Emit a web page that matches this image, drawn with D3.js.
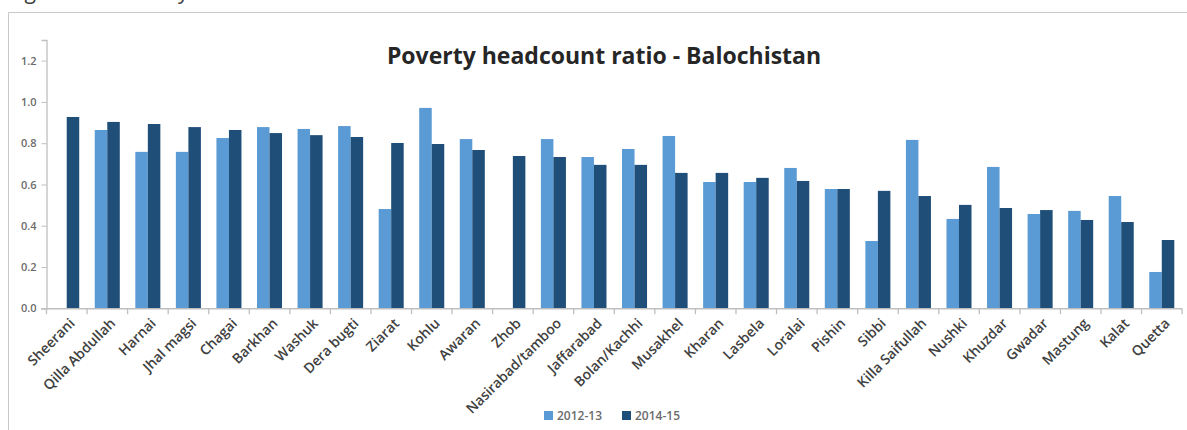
<!DOCTYPE html>
<html>
<head>
<meta charset="utf-8">
<script src="https://cdn.jsdelivr.net/npm/d3@7"></script>
<style>
  html, body { margin: 0; padding: 0; background: #fff; }
  svg { display: block; }
  text { font-family: "Open Sans", "Noto Sans", sans-serif; }
</style>
</head>
<body>
<svg id="chart" width="1187" height="430"></svg>
<script>
// Districts of Balochistan, ordered by 2014-15 headcount ratio
const districts = ["Sheerani", "Qilla Abdullah", "Harnai", "Jhal magsi", "Chagai", "Barkhan",
  "Washuk", "Dera bugti", "Ziarat", "Kohlu", "Awaran", "Zhob", "Nasirabad/tamboo", "Jaffarabad",
  "Bolan/Kachhi", "Musakhel", "Kharan", "Lasbela", "Loralai", "Pishin", "Sibbi", "Killa Saifullah",
  "Nushki", "Khuzdar", "Gwadar", "Mastung", "Kalat", "Quetta"];

const ratio2012 = [null, 0.864, 0.758, 0.758, 0.825, 0.878, 0.869, 0.883, 0.481, 0.971, 0.820,
  null, 0.820, 0.733, 0.772, 0.835, 0.612, 0.612, 0.680, 0.578, 0.326, 0.816, 0.433, 0.685,
  0.457, 0.472, 0.544, 0.176];

const ratio2014 = [0.927, 0.903, 0.893, 0.878, 0.864, 0.849, 0.839, 0.830, 0.801, 0.796, 0.767,
  0.738, 0.733, 0.695, 0.695, 0.656, 0.656, 0.632, 0.617, 0.578, 0.569, 0.544, 0.501, 0.486,
  0.476, 0.428, 0.418, 0.331];

const seriesNames = ["2012-13", "2014-15"];
const seriesColors = ["#5b9bd5", "#1f4e79"];
const yTicks = [0, 0.2, 0.4, 0.6, 0.8, 1.0, 1.2];

const svg = d3.select("#chart");
const axisGrey = "#bfbfbf";

// caption running off the top of the frame
svg.append("text")
  .attr("x", 6).attr("y", -1)
  .attr("font-size", 21).attr("letter-spacing", 1.2).attr("fill", "#404040")
  .text("Figure 6: Poverty headcount ratio");

// outer frame (left and top edges)
svg.append("path")
  .attr("d", "M8.5,430 V12.5 H1187")
  .attr("fill", "none").attr("stroke", "#c8c8c8").attr("stroke-width", 1);

const x0 = d3.scaleBand().domain(districts).range([46.5, 1182]).paddingInner(0.383).paddingOuter(0.19);
const x1 = d3.scaleBand().domain(seriesNames).range([0, x0.bandwidth()]);
const y = d3.scaleLinear().domain([0, 1.3]).range([308.3, 40]);

// title
svg.append("text")
  .attr("x", 604).attr("y", 64)
  .attr("text-anchor", "middle")
  .attr("font-size", 23).attr("font-weight", 700).attr("fill", "#262626")
  .text("Poverty headcount ratio - Balochistan");

// y axis
const yAxis = svg.append("g")
  .attr("transform", "translate(46.5,0)")
  .call(d3.axisLeft(y).tickValues(yTicks).tickFormat(d3.format(".1f")).tickSize(5).tickPadding(5));
yAxis.select(".domain").attr("stroke", axisGrey).attr("stroke-width", 1.3);
yAxis.selectAll(".tick line").attr("stroke", axisGrey);
yAxis.selectAll(".tick text").attr("font-size", 11).attr("font-weight", 600).attr("fill", "#6b6b6b").attr("font-family", "'Open Sans', sans-serif");

// bars
const rows = districts.map((d, i) => ({ district: d, values: [ratio2012[i], ratio2014[i]] }));
const groups = svg.append("g").selectAll("g")
  .data(rows).join("g")
  .attr("transform", d => `translate(${x0(d.district)},0)`);
groups.selectAll("rect")
  .data(d => d.values.map((v, k) => ({ series: seriesNames[k], value: v, k })).filter(e => e.value != null))
  .join("rect")
  .attr("x", e => x1(e.series))
  .attr("width", x1.bandwidth())
  .attr("y", e => y(e.value))
  .attr("height", e => y(0) - y(e.value))
  .attr("fill", e => seriesColors[e.k]);

// x axis with ticks between categories
const step = x0.step();
const xStart = 46.5;
const xAxisG = svg.append("g");
xAxisG.append("line")
  .attr("x1", 41).attr("x2", 1182)
  .attr("y1", y(0) + 0.5).attr("y2", y(0) + 0.5)
  .attr("stroke", axisGrey).attr("stroke-width", 1.5);
xAxisG.selectAll("line.tk")
  .data(d3.range(districts.length + 1))
  .join("line").attr("class", "tk")
  .attr("x1", i => xStart + i * step).attr("x2", i => xStart + i * step)
  .attr("y1", y(0)).attr("y2", y(0) + 6)
  .attr("stroke", axisGrey).attr("stroke-width", 1.3);

// category labels rotated 45 degrees
xAxisG.selectAll("text")
  .data(districts).join("text")
  .attr("transform", d => `translate(${x0(d) + x0.bandwidth() / 2 + 2},${y(0) + 9}) rotate(-45)`)
  .attr("text-anchor", "end")
  .attr("dy", "0.7em")
  .attr("font-size", 14).attr("font-weight", 600).attr("fill", "#404040")
  .text(d => d);

// legend
const legend = svg.append("g").attr("transform", "translate(544,411)");
const legendItems = legend.selectAll("g").data(seriesNames).join("g")
  .attr("transform", (d, i) => `translate(${i * 78},0)`);
legendItems.append("rect").attr("width", 9).attr("height", 9).attr("fill", (d, i) => seriesColors[i]);
legendItems.append("text")
  .attr("x", 13).attr("y", 9)
  .attr("font-size", 12).attr("font-weight", 600).attr("fill", "#6b6b6b")
  .text(d => d);
</script>
</body>
</html>
